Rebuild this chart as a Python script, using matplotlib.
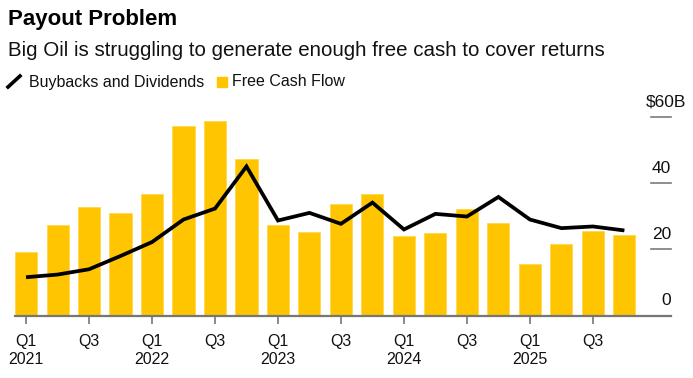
import numpy as np
import matplotlib
matplotlib.use('Agg')
import matplotlib.pyplot as plt
from matplotlib.lines import Line2D
from matplotlib.patches import Rectangle

plt.rcParams['font.family'] = ['Liberation Sans', 'DejaVu Sans']

# quarters Q1 2021 .. Q4 2025
quarters = ['Q1', 'Q2', 'Q3', 'Q4'] * 5
years = ['2021', '2022', '2023', '2024', '2025']

# free cash flow (bars), $B
free_cash_flow = [19.2, 27.2, 32.8, 31.1, 36.7, 57.1, 58.6, 47.1, 27.3, 25.3,
                  33.6, 36.6, 24.0, 25.0, 32.3, 28.0, 15.6, 21.7, 25.5, 24.3]
# buybacks and dividends (line), $B
buybacks_dividends = [11.6, 12.4, 14.0, 18.0, 22.2, 29.0, 32.3, 45.0, 28.7, 31.0,
                      27.7, 34.1, 26.0, 30.7, 29.9, 35.8, 29.0, 26.4, 26.9, 25.7]

y_ticks = [0, 20, 40, 60]
y_labels = ['0', '20', '40', '$60B']

W, H = 693, 378
fig = plt.figure(figsize=(W / 100, H / 100), dpi=100)

# axes placed in pixel terms
left, right = 14.7, 671.0
base, top = 315.7, 116.7
ax = fig.add_axes([left / W, 1 - base / H, (right - left) / W, (base - top) / H])

x = np.arange(len(free_cash_flow))
bar_col = '#FFC500'
ax.bar(x, free_cash_flow, width=0.7, color=bar_col, edgecolor='#FFD84D', linewidth=0.6, zorder=2)
ax.plot(x, buybacks_dividends, color='black', lw=2.7, zorder=3, solid_joinstyle='miter',
        solid_capstyle='butt')

ax.set_xlim(-0.36, 20.48)
ax.set_ylim(0, 60)
for s in ax.spines.values():
    s.set_visible(False)
ax.set_yticks([])

# baseline + short right-side gridlines
ax.axhline(0, color='#767676', lw=1.6, zorder=4, clip_on=False)
for t in y_ticks[1:]:
    ax.axhline(t, xmin=0.9695, xmax=1.0, color='#7a7a7a', lw=1.2, zorder=1, clip_on=False)

# y labels above the gridlines
for t, lab in zip(y_ticks, y_labels):
    xpos = 20.95 if lab.startswith('$') else 20.48
    ax.text(xpos, t + 4.5, lab, ha='right', va='center', fontsize=12.5, color='#111111')

# x ticks at Q1 and Q3
tick_pos = x[::2]
tick_labels = []
for i in tick_pos:
    lab = quarters[i]
    if lab == 'Q1':
        lab += '\n' + years[i // 4]
    tick_labels.append(lab)
ax.set_xticks(tick_pos)
ax.set_xticklabels(tick_labels, fontsize=11.5, color='#111111', linespacing=1.3, va='top')
ax.tick_params(axis='x', length=6, width=1.2, color='#767676', pad=7)

# title, subtitle, legend
fig.text(8 / W, 1 - 20 / H, 'Payout Problem', fontsize=16, fontweight='bold',
         va='center', ha='left', color='black')
fig.text(8 / W, 1 - 51 / H, 'Big Oil is struggling to generate enough free cash to cover returns',
         fontsize=14.8, va='center', ha='left', color='#111111')
fig.add_artist(Line2D([8 / W, 20 / W], [1 - 87 / H, 1 - 76 / H], color='black', lw=2.6,
                      transform=fig.transFigure))
fig.text(29 / W, 1 - 82 / H, 'Buybacks and Dividends', fontsize=11.5, va='center', ha='left',
         color='#111111')
fig.add_artist(Rectangle((216.7 / W, 1 - 87.3 / H), 10 / W, 10 / H, color=bar_col,
                         transform=fig.transFigure))
fig.text(232 / W, 1 - 82 / H, 'Free Cash Flow', fontsize=11.5, va='center', ha='left',
         color='#111111')

fig.savefig('out.png', dpi=100)
